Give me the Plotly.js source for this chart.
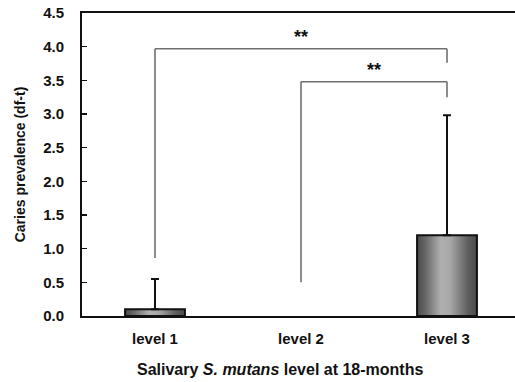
<!DOCTYPE html>
<html>
<head>
<meta charset="utf-8">
<script src="https://cdn.plot.ly/plotly-3.0.1.min.js"></script>
<style>
html,body{margin:0;padding:0;overflow:hidden;background:#fff;}
#chart{width:525px;height:382px;}
</style>
</head>
<body>
<div id="chart"></div>
<script>
// Data
var categories = ['level 1', 'level 2', 'level 3'];
var means = [0.1, 0, 1.2];
var sdUpper = [0.45, 0, 1.78];
var yTicks = [0, 0.5, 1.0, 1.5, 2.0, 2.5, 3.0, 3.5, 4.0, 4.5];
// Significance brackets
var bracketFrom = [0, 1];
var bracketTo = [2, 2];
var bracketTop = [3.97, 3.48];
var bracketLeftBottom = [0.86, 0.5];
var bracketRightBottom = [3.76, 3.25];
var bracketLabel = ['**', '**'];
var xTitle = 'Salivary <i>S. mutans</i> level at 18-months';
var yTitle = 'Caries prevalence (df-t)';

var FONT = 'Liberation Sans, Arial, sans-serif';

var trace = {
  type: 'bar',
  x: categories,
  y: means,
  width: 0.41,
  marker: {color: '#8a8a8a', line: {color: '#111', width: means.map(function(v){return v > 0 ? 2 : 0;})}},
  error_y: {type: 'data', symmetric: false, array: sdUpper, arrayminus: [0,0,0],
            color: '#111', thickness: 2, width: 4},
  hoverinfo: 'none'
};

var shapes = [], annotations = [];
var bracketColor = '#707070';
for (var i = 0; i < bracketFrom.length; i++) {
  var a = bracketFrom[i], b = bracketTo[i], t = bracketTop[i];
  shapes.push({type:'line', xref:'x', yref:'y', x0:a, x1:a, y0:bracketLeftBottom[i], y1:t, line:{color:bracketColor, width:1.6}});
  shapes.push({type:'line', xref:'x', yref:'y', x0:a, x1:b, y0:t, y1:t, line:{color:bracketColor, width:1.6}});
  shapes.push({type:'line', xref:'x', yref:'y', x0:b, x1:b, y0:bracketRightBottom[i], y1:t, line:{color:bracketColor, width:1.6}});
  annotations.push({xref:'x', yref:'y', x:(a+b)/2, y:t, text:bracketLabel[i], showarrow:false,
    yanchor:'bottom', yshift:0, font:{family:FONT, size:18, color:'#111', weight:'bold'}});
}
// x-axis title placed as annotation (centered slightly left of plot center, as in reference)
annotations.push({xref:'paper', yref:'paper', x:0.452, y:-0.175, xanchor:'center', yanchor:'middle',
  text:xTitle, showarrow:false, font:{family:FONT, size:16, color:'#111', weight:'bold'}});

var layout = {
  width: 525, height: 382,
  margin: {l:82, r:5, t:13, b:66},
  paper_bgcolor:'#fff', plot_bgcolor:'#fff',
  showlegend:false,
  font:{family:FONT, color:'#111'},
  xaxis:{
    type:'category', range:[-0.5, 2.5],
    showline:true, linecolor:'#111', linewidth:2, mirror:true,
    ticks:'', showgrid:false, zeroline:false,
    tickfont:{family:FONT, size:15, color:'#111', weight:'bold'},
    ticklabelstandoff: 8
  },
  yaxis:{
    range:[0, 4.5], tickvals:yTicks, ticktext:yTicks.map(function(v){return v.toFixed(1);}),
    showline:true, linecolor:'#111', linewidth:2, mirror:true,
    ticks:'inside', ticklen:5, tickwidth:1.5, tickcolor:'#111',
    showgrid:false, zeroline:false,
    tickfont:{family:FONT, size:15, color:'#111', weight:'bold'},
    ticklabelstandoff: 13,
    title:{text:yTitle, standoff:14,
      font:{family:FONT, size:14, color:'#111', weight:'bold'}}
  },
  shapes: shapes,
  annotations: annotations
};

Plotly.newPlot('chart', [trace], layout, {staticPlot:true, displayModeBar:false}).then(function(gd){
  var svg = gd.querySelector('svg.main-svg');
  var ns = 'http://www.w3.org/2000/svg';
  var defs = document.createElementNS(ns, 'defs');
  var g = document.createElementNS(ns, 'linearGradient');
  g.setAttribute('id', 'barGrad');
  g.setAttribute('x1', '0'); g.setAttribute('y1', '0');
  g.setAttribute('x2', '1'); g.setAttribute('y2', '0');
  var stops = [[0,'#4a4a4a'],[0.15,'#6a6a6a'],[0.4,'#b0b0b0'],[0.55,'#a8a8a8'],[0.85,'#5e5e5e'],[1,'#4a4a4a']];
  stops.forEach(function(s){
    var st = document.createElementNS(ns, 'stop');
    st.setAttribute('offset', s[0]); st.setAttribute('stop-color', s[1]);
    g.appendChild(st);
  });
  defs.appendChild(g);
  svg.insertBefore(defs, svg.firstChild);
  gd.querySelectorAll('.bars .point path').forEach(function(p){
    p.style.fill = 'url(#barGrad)';
  });
  // hide error bars for points with no spread (level 2 has none drawn in the reference)
  gd.querySelectorAll('.errorbar').forEach(function(eb, k){
    if (!(sdUpper[k] > 0)) eb.style.display = 'none';
  });
});
</script>
</body>
</html>
